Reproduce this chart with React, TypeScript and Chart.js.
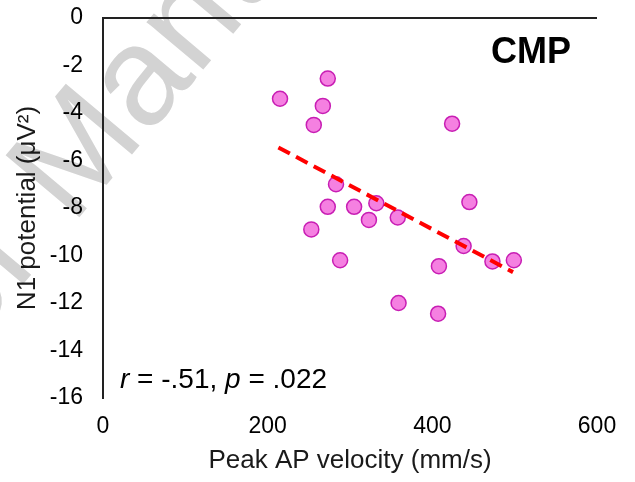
import React, { useEffect, useRef } from "react";
import { Chart, registerables } from "chart.js";

Chart.register(...registerables);

// Peak AP velocity (mm/s) for each participant
const velocity = [215, 273, 267, 256, 283, 273, 305, 332, 323, 358, 253, 288, 424, 445, 438, 473, 499, 408, 359, 407];
// N1 potential (µV²) for each participant
const n1 = [-3.4, -2.55, -3.7, -4.5, -7.0, -7.95, -7.95, -7.8, -8.5, -8.4, -8.9, -10.2, -4.45, -7.75, -9.6, -10.25, -10.2, -10.45, -12.0, -12.45];
// regression line end points
const trendX = [213, 498];
const trendY = [-5.45, -10.7];

const xMin = 0;
const xMax = 600;
const xStep = 200;
const yMin = -16;
const yMax = 0;
const yStep = 2;

const groupLabel = "CMP";
const xTitle = "Peak AP velocity (mm/s)";
const yTitle = "N1 potential (μV²)";
const watermark = "Author Manuscript";

const FONT = '"Liberation Sans", Arial, sans-serif';

const textPlugin = {
  id: "texts",
  beforeDraw(chart: any) {
    const ctx = chart.ctx;
    ctx.save();
    ctx.translate(72, 226);
    ctx.rotate((-50 * Math.PI) / 180);
    ctx.font = `140px ${FONT}`;
    ctx.fillStyle = "#d3d3d3";
    ctx.textBaseline = "alphabetic";
    const pre = ctx.measureText("Author ").width;
    ctx.fillText(watermark, -pre, 0);
    ctx.restore();
  },
  afterDraw(chart: any) {
    const ctx = chart.ctx;
    ctx.save();
    ctx.fillStyle = "#000";
    ctx.textBaseline = "middle";
    ctx.font = `bold 36px ${FONT}`;
    ctx.textAlign = "center";
    ctx.fillText(groupLabel, 531, 53);
    // statistics
    ctx.textAlign = "left";
    const parts: [string, boolean][] = [
      ["r", true],
      [" = -.51, ", false],
      ["p", true],
      [" = .022", false],
    ];
    let x = 120;
    for (const [t, it] of parts) {
      ctx.font = `${it ? "italic " : ""}28px ${FONT}`;
      ctx.fillText(t, x, 380);
      x += ctx.measureText(t).width;
    }
    ctx.restore();
  },
};

export default function App() {
  const ref = useRef<HTMLCanvasElement>(null);
  useEffect(() => {
    if (!ref.current) return;
    const points = velocity.map((v, i) => ({ x: v, y: n1[i] }));
    const trend = trendX.map((v, i) => ({ x: v, y: trendY[i] }));
    const chart = new Chart(ref.current, {
      type: "scatter",
      data: {
        datasets: [
          {
            type: "line",
            label: "fit",
            data: trend,
            borderColor: "#FF0000",
            borderWidth: 4,
            borderDash: [13, 7],
            pointRadius: 0,
            fill: false,
            order: 0,
          } as any,
          {
            label: groupLabel,
            data: points,
            backgroundColor: "#F580E1",
            borderColor: "#C81EB4",
            borderWidth: 1.5,
            pointRadius: 7.5,
            order: 1,
          },
        ],
      },
      options: {
        responsive: false,
        animation: false,
        layout: { padding: { left: 0, top: 18, right: 38, bottom: 0 } },
        plugins: { legend: { display: false }, tooltip: { enabled: false } },
        scales: {
          x: {
            type: "linear",
            min: xMin,
            max: xMax,
            ticks: {
              stepSize: xStep,
              padding: 15,
              color: "#000",
              font: { family: FONT, size: 23 },
            },
            grid: { display: false, drawTicks: false },
            border: { display: false },
            title: {
              display: true,
              text: xTitle,
              color: "#1a1a1a",
              font: { family: FONT, size: 26 },
              padding: { top: 0, bottom: 6 },
            },
            afterFit: (s: any) => {
              s.height = 84;
              s.paddingLeft = 0;
              s.paddingRight = 0;
            },
          },
          y: {
            type: "linear",
            min: yMin,
            max: yMax,
            ticks: {
              stepSize: yStep,
              padding: 20,
              color: "#000",
              font: { family: FONT, size: 23 },
            },
            grid: {
              drawTicks: false,
              lineWidth: 2,
              color: (c: any) => (c.tick && c.tick.value === 0 ? "#222" : "rgba(0,0,0,0)"),
            },
            border: { display: true, color: "#222", width: 2 },
            title: {
              display: true,
              text: yTitle,
              color: "#1a1a1a",
              font: { family: FONT, size: 26 },
              padding: { top: 12, bottom: 0 },
            },
            afterFit: (s: any) => {
              s.width = 103;
              s.paddingTop = 0;
              s.paddingBottom = 0;
            },
          },
        },
      },
      plugins: [textPlugin],
    });
    return () => chart.destroy();
  }, []);
  return (
    <div style={{ position: "fixed", left: 0, top: 0, width: 635, height: 482, background: "#fff" }}>
      <canvas ref={ref} width={635} height={482} style={{ display: "block" }} />
    </div>
  );
}
